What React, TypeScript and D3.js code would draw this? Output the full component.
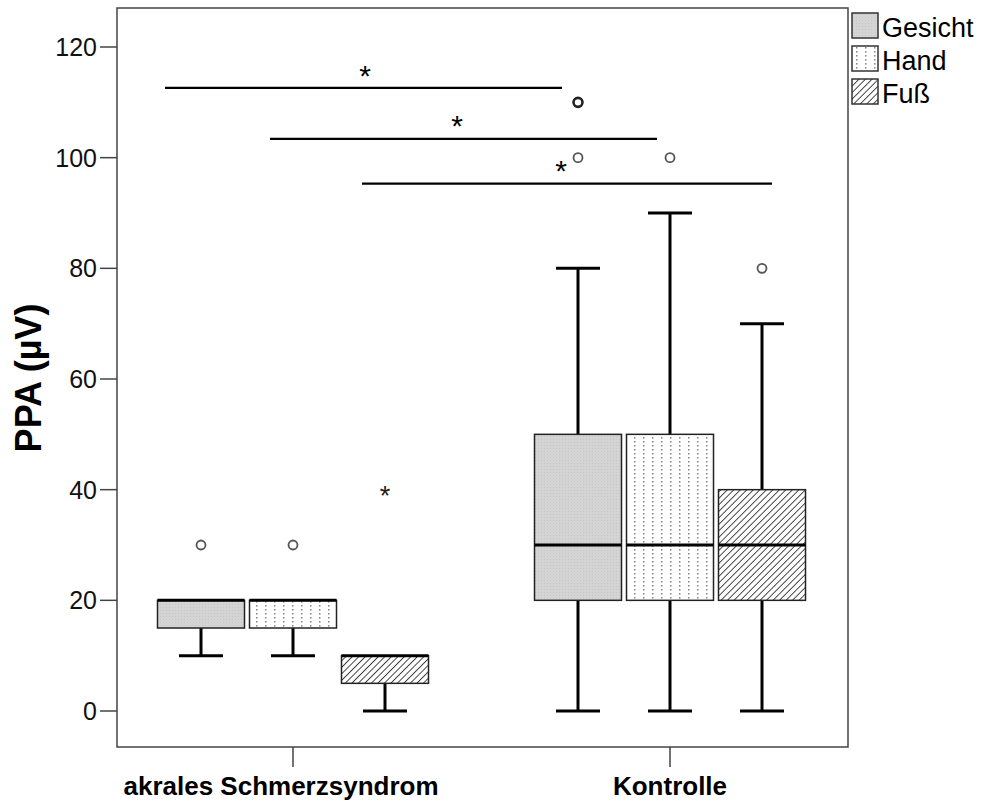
import React from 'react';
import * as d3 from 'd3';

const groups = ['akrales Schmerzsyndrom', 'Kontrolle'];
const series = ['Gesicht', 'Hand', 'Fuß'];
// [whiskerLow, q1, median, q3, whiskerHigh] per group, per series
const boxStats = [
  [[10, 15, 20, 20, 20], [10, 15, 20, 20, 20], [0, 5, 10, 10, 10]],
  [[0, 20, 30, 50, 80], [0, 20, 30, 50, 90], [0, 20, 30, 40, 70]],
];
const outliers = [
  [[30], [30], []],
  [[100, 110], [100], [80]],
];
const extremes = [
  [[], [], [40]],
  [[], [], []],
];
const yTicks = [0, 20, 40, 60, 80, 100, 120];
// significance bars: [x from, x to, level, star x]
const sigBars = [
  [165, 562, 112.6, 365],
  [270, 657, 103.4, 457],
  [362, 772, 95.3, 561],
];

const W = 981;
const H = 803;
const left = 117;
const right = 848;
const top = 8;
const bottom = 747;

const App = () => {
  const y = d3.scaleLinear().domain([0, 120]).range([711, 47]);
  const gx = (g) => (g === 0 ? 293 : 670);
  const boxW = 87;
  const step = 92;
  const cx = (g, s) => gx(g) + (s - 1) * step;
  const fills = ['url(#patG)', 'url(#patH)', 'url(#patF)'];
  const font = 'Liberation Sans, Arial, sans-serif';

  return (
    <svg width={W} height={H} style={{ position: 'absolute', left: 0, top: 0, background: '#fff' }}>
      <defs>
        <pattern id="patG" width="3" height="3" patternUnits="userSpaceOnUse">
          <rect width="3" height="3" fill="#d4d4d4" />
          <rect x="1" y="1" width="1" height="1" fill="#c6c6c6" />
        </pattern>
        <pattern id="patH" width="9" height="4" patternUnits="userSpaceOnUse">
          <rect width="9" height="4" fill="#fff" />
          <rect x="4" y="1" width="1.5" height="1.6" fill="#8a8a8a" />
        </pattern>
        <pattern id="patF" width="4.6" height="4.6" patternUnits="userSpaceOnUse" patternTransform="rotate(45)">
          <rect width="4.6" height="4.6" fill="#fff" />
          <line x1="0" y1="0" x2="0" y2="4.6" stroke="#2a2a2a" strokeWidth="1.7" />
        </pattern>
      </defs>

      {/* frame */}
      <rect x={left} y={top} width={right - left} height={bottom - top} fill="none" stroke="#444" strokeWidth={1.5} />

      {/* y axis ticks */}
      {yTicks.map((t) => (
        <g key={t}>
          <line x1={100} x2={left} y1={y(t)} y2={y(t)} stroke="#444" strokeWidth={1.5} />
          <text x={97} y={y(t)} dy="0.36em" textAnchor="end" fontFamily={font} fontSize={25} fill="#111">{t}</text>
        </g>
      ))}
      <text transform={`translate(41,378) rotate(-90)`} textAnchor="middle" fontFamily={font} fontSize={36} fontWeight="bold" fill="#000">PPA (µV)</text>

      {/* x axis ticks */}
      {groups.map((g, i) => (
        <g key={g}>
          <line x1={gx(i)} x2={gx(i)} y1={bottom} y2={767} stroke="#444" strokeWidth={1.5} />
          <text x={i === 0 ? 281 : gx(i)} y={795} textAnchor="middle" fontFamily={font} fontSize={26} fontWeight="bold" fill="#000">{g}</text>
        </g>
      ))}

      {/* boxes */}
      {boxStats.map((grp, g) =>
        grp.map((st, s) => {
          const c = cx(g, s);
          const [lo, q1, med, q3, hi] = st;
          return (
            <g key={`${g}-${s}`}>
              {hi > q3 && <line x1={c} x2={c} y1={y(q3)} y2={y(hi)} stroke="#000" strokeWidth={3} />}
              {hi > q3 && <line x1={c - 22} x2={c + 22} y1={y(hi)} y2={y(hi)} stroke="#000" strokeWidth={3} />}
              <line x1={c} x2={c} y1={y(q1)} y2={y(lo)} stroke="#000" strokeWidth={3} />
              <line x1={c - 22} x2={c + 22} y1={y(lo)} y2={y(lo)} stroke="#000" strokeWidth={3} />
              <rect x={c - boxW / 2} y={y(q3)} width={boxW} height={y(q1) - y(q3)} fill={fills[s]} stroke="#222" strokeWidth={1.5} />
              <line x1={c - boxW / 2} x2={c + boxW / 2} y1={y(med)} y2={y(med)} stroke="#000" strokeWidth={3} />
              {outliers[g][s].map((v, k) => (
                <circle key={k} cx={c} cy={y(v)} r={4.5} fill="#fff" stroke={v === 110 ? '#222' : '#555'} strokeWidth={v === 110 ? 2.6 : 1.8} />
              ))}
              {extremes[g][s].map((v, k) => (
                <text key={k} x={c} y={y(v)} dy="0.57em" textAnchor="middle" fontFamily={font} fontSize={27} fill="#222">*</text>
              ))}
            </g>
          );
        })
      )}

      {/* significance bars */}
      {sigBars.map(([xa, xb, lv, xs], i) => (
        <g key={i}>
          <line x1={xa} x2={xb} y1={y(lv)} y2={y(lv)} stroke="#000" strokeWidth={2.2} />
          <text x={xs} y={y(lv) - 24} dy="0.72em" textAnchor="middle" fontFamily={font} fontSize={30} fill="#000">*</text>
        </g>
      ))}

      {/* legend */}
      {series.map((s, i) => (
        <g key={s} transform={`translate(852,${13 + i * 33})`}>
          <rect width={26} height={25} fill={fills[i]} stroke="#333" strokeWidth={1.5} />
          <text x={30} y={24} fontFamily={font} fontSize={27} fill="#000">{s}</text>
        </g>
      ))}
    </svg>
  );
};

export default App;
